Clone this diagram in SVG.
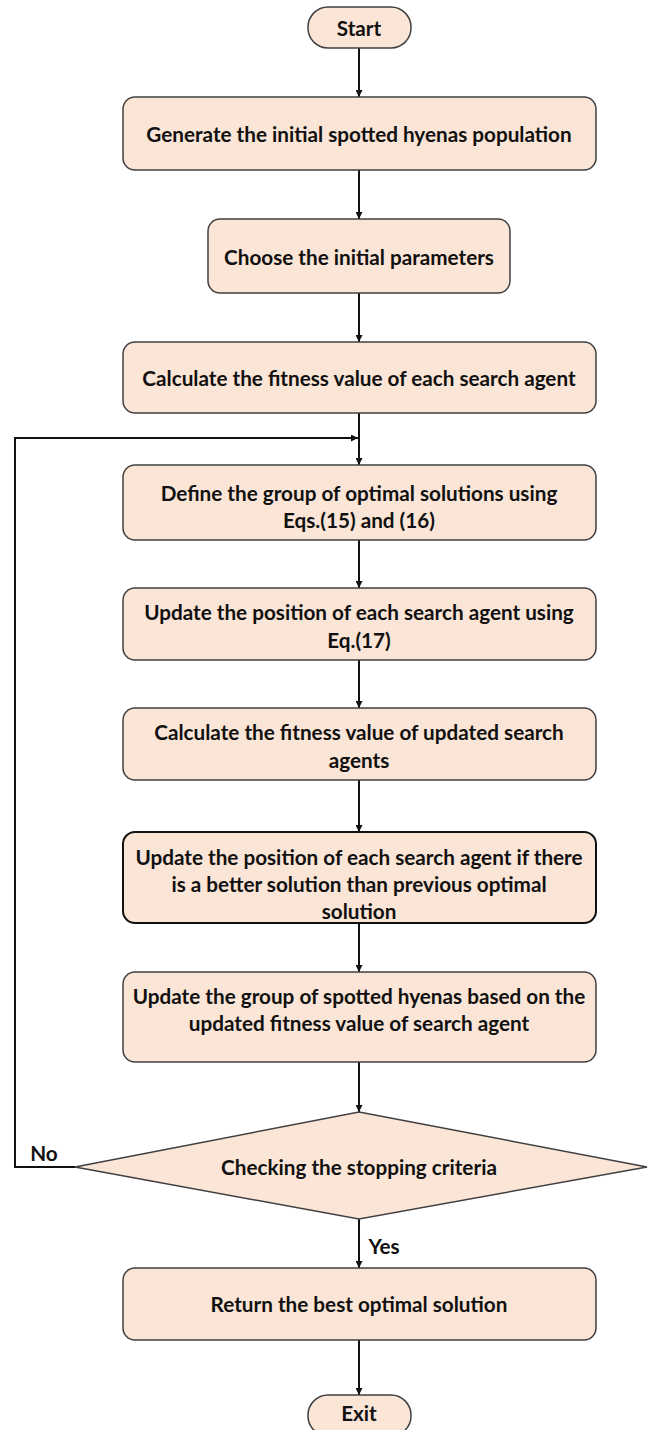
<svg xmlns="http://www.w3.org/2000/svg" width="654" height="1430" viewBox="0 0 654 1430">
<style>
.box{fill:#FBE5D6;stroke:#404040;stroke-width:1.5}
.dark{stroke:#111;stroke-width:2}
.t{font-family:Lato,"Liberation Sans",sans-serif;font-weight:700;font-size:20.7px;fill:#111;text-anchor:middle;dominant-baseline:central}
.c{stroke:#111;stroke-width:2;fill:none}
</style>
<defs>
<marker id="ah" viewBox="0 0 10 10" refX="10" refY="5" markerWidth="7" markerHeight="7" orient="auto" markerUnits="userSpaceOnUse"><path d="M0,0 L10,5 L0,10 z" fill="#111"/></marker>
</defs>
<g id="connectors">
<line class="c" x1="359" y1="48" x2="359" y2="97" marker-end="url(#ah)"/>
<line class="c" x1="359" y1="170" x2="359" y2="219" marker-end="url(#ah)"/>
<line class="c" x1="359" y1="293" x2="359" y2="342" marker-end="url(#ah)"/>
<line class="c" x1="359" y1="413" x2="359" y2="465" marker-end="url(#ah)"/>
<polyline class="c" points="75,1167 15,1167 15,438 358,438" marker-end="url(#ah)"/>
<line class="c" x1="359" y1="540" x2="359" y2="588" marker-end="url(#ah)"/>
<line class="c" x1="359" y1="660" x2="359" y2="708" marker-end="url(#ah)"/>
<line class="c" x1="359" y1="780" x2="359" y2="832" marker-end="url(#ah)"/>
<line class="c" x1="359" y1="923" x2="359" y2="972" marker-end="url(#ah)"/>
<line class="c" x1="359" y1="1062" x2="359" y2="1112" marker-end="url(#ah)"/>
<line class="c" x1="359" y1="1219" x2="359" y2="1268" marker-end="url(#ah)"/>
<line class="c" x1="359" y1="1340" x2="359" y2="1395" marker-end="url(#ah)"/>
<text class="t" x="44" y="1153">No</text>
<text class="t" x="384" y="1246">Yes</text>
</g>
<g id="start"><rect class="box" x="308" y="7" width="103" height="41" rx="20"/><text class="t" x="359" y="28">Start</text></g>
<g id="n1"><rect class="box" x="123" y="97" width="473" height="73" rx="12"/><text class="t" x="359" y="134">Generate the initial spotted hyenas population</text></g>
<g id="n2"><rect class="box" x="208" y="219" width="302" height="74" rx="12"/><text class="t" x="359" y="257">Choose the initial parameters</text></g>
<g id="n3"><rect class="box" x="123" y="342" width="473" height="71" rx="12"/><text class="t" x="359" y="378">Calculate the fitness value of each search agent</text></g>
<g id="n4"><rect class="box" x="123" y="465" width="473" height="75" rx="12"/><text class="t" x="359" y="493">Define the group of optimal solutions using</text><text class="t" x="359" y="520">Eqs.(15) and (16)</text></g>
<g id="n5"><rect class="box" x="123" y="588" width="473" height="72" rx="12"/><text class="t" x="359" y="612">Update the position of each search agent using</text><text class="t" x="359" y="640">Eq.(17)</text></g>
<g id="n6"><rect class="box" x="123" y="708" width="473" height="72" rx="12"/><text class="t" x="359" y="732">Calculate the fitness value of updated search</text><text class="t" x="359" y="760">agents</text></g>
<g id="n7"><rect class="box dark" x="123" y="832" width="473" height="91" rx="12"/><text class="t" x="359" y="857">Update the position of each search agent if there</text><text class="t" x="359" y="884">is a better solution than previous optimal</text><text class="t" x="359" y="911">solution</text></g>
<g id="n8"><rect class="box" x="123" y="972" width="473" height="90" rx="12"/><text class="t" x="359" y="996">Update the group of spotted hyenas based on the</text><text class="t" x="359" y="1023">updated fitness value of search agent</text></g>
<g id="decision"><polygon class="box" points="359,1112 647,1167 359,1219 75,1167"/><text class="t" x="359" y="1167">Checking the stopping criteria</text></g>
<g id="n9"><rect class="box" x="123" y="1268" width="473" height="72" rx="12"/><text class="t" x="359" y="1304">Return the best optimal solution</text></g>
<g id="exit"><rect class="box" x="308" y="1395" width="103" height="41" rx="20"/><text class="t" x="359" y="1413">Exit</text></g>
</svg>
